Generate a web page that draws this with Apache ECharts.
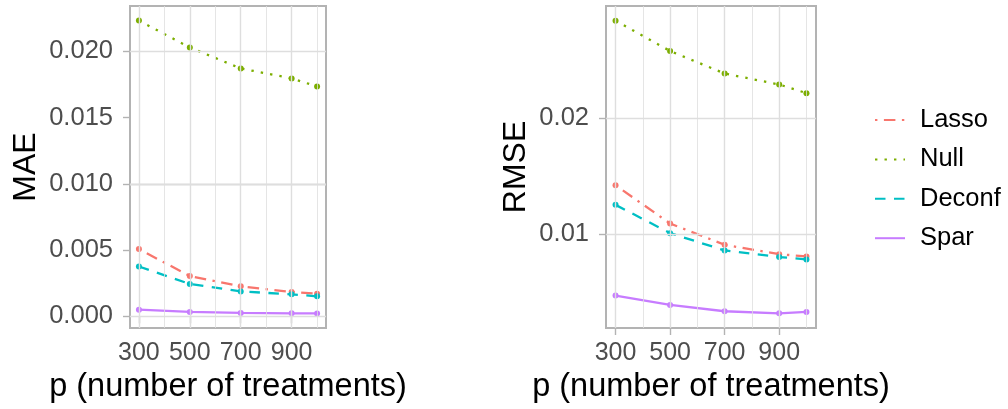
<!DOCTYPE html>
<html><head><meta charset="utf-8">
<script src="https://cdn.jsdelivr.net/npm/echarts@6/dist/echarts.min.js"></script>
<style>html,body{margin:0;padding:0;background:#fff}#c{width:1008px;height:409px}</style>
</head><body><div id="c"></div>
<script>
// ---- data ----
const pValues = [300, 500, 700, 900, 1000];
const methods = ['Lasso', 'Null', 'Deconf', 'Spar'];
const maeLasso  = [0.00507, 0.00304, 0.00226, 0.00184, 0.00171];
const maeNull   = [0.02231, 0.02028, 0.01870, 0.01795, 0.01734];
const maeDeconf = [0.00376, 0.00244, 0.00188, 0.00166, 0.00151];
const maeSpar   = [0.00050, 0.00033, 0.00026, 0.00023, 0.00022];
const rmseLasso  = [0.01421, 0.01089, 0.00905, 0.00824, 0.00804];
const rmseNull   = [0.02847, 0.02584, 0.02389, 0.02294, 0.02219];
const rmseDeconf = [0.01251, 0.01006, 0.00856, 0.00799, 0.00778];
const rmseSpar   = [0.00465, 0.00384, 0.00329, 0.00311, 0.00323];
const xTicks = [300, 500, 700, 900];
const xMinor = [400, 600, 800, 1000];
const maeTicks = [0, 0.005, 0.010, 0.015, 0.020];
const maeMinor = [0.0025, 0.0075, 0.0125, 0.0175, 0.0225];
const rmseTicks = [0.01, 0.02];
const rmseMinor = [0.005, 0.015, 0.025];
const xTitle = 'p (number of treatments)';
const yTitles = ['MAE', 'RMSE'];

// ---- styling ----
const FONT = 'Liberation Sans, Arial, sans-serif';
const colors = {Lasso: '#F8766D', Null: '#7CAE00', Deconf: '#00BFC4', Spar: '#C77CFF'};
const dashes = {Lasso: [2.4, 6.5, 11.5, 6.5], Null: [2.4, 7.1], Deconf: [10.5, 8.5], Spar: 'solid'};
const GRID = '#DEDEDE', BORDER = '#B3B3B3';

const panelData = [
  {Lasso: maeLasso, Null: maeNull, Deconf: maeDeconf, Spar: maeSpar},
  {Lasso: rmseLasso, Null: rmseNull, Deconf: rmseDeconf, Spar: rmseSpar}
];
const yTickSets = [maeTicks, rmseTicks];
const yMinorSets = [maeMinor, rmseMinor];
const yRanges = [[-0.00088, 0.02341], [0.00184, 0.02974]];
const yDigits = [3, 2];

const grids = [
  {left: 130, top: 6, width: 196, height: 322},
  {left: 606, top: 6, width: 210, height: 322}
];
const yNameGap = [88, 74];

const xAxes = [], yAxes = [], series = [];
grids.forEach((g, i) => {
  xAxes.push({
    type: 'value', gridIndex: i, min: 265, max: 1035,
    name: xTitle, nameLocation: 'middle', nameGap: 41,
    nameTextStyle: {fontFamily: FONT, fontSize: 32.5, color: '#000'},
    axisLine: {show: false},
    splitLine: {show: false},
    axisTick: {show: true, customValues: xTicks, length: 7, lineStyle: {color: BORDER, width: 1.4}},
    axisLabel: {customValues: xTicks, margin: 13, fontFamily: FONT, fontSize: 25, color: '#4D4D4D'}
  });
  yAxes.push({
    type: 'value', gridIndex: i, min: yRanges[i][0], max: yRanges[i][1],
    name: yTitles[i], nameLocation: 'middle', nameGap: yNameGap[i],
    nameTextStyle: {fontFamily: FONT, fontSize: 32, color: '#000'},
    axisLine: {show: false},
    splitLine: {show: false},
    axisTick: {show: true, customValues: yTickSets[i], length: 7, lineStyle: {color: BORDER, width: 1.4}},
    axisLabel: {customValues: yTickSets[i], margin: 17, fontFamily: FONT, fontSize: 25.5, color: '#4D4D4D',
      formatter: v => Number(v).toFixed(yDigits[i])}
  });
  // gridlines through the axes' scales
  const lines = [];
  xMinor.forEach(v => lines.push({xAxis: v, lineStyle: {width: 0.8}}));
  yMinorSets[i].forEach(v => lines.push({yAxis: v, lineStyle: {width: 0.8}}));
  xTicks.forEach(v => lines.push({xAxis: v, lineStyle: {width: 1.4}}));
  yTickSets[i].forEach(v => lines.push({yAxis: v, lineStyle: {width: 1.4}}));
  series.push({
    type: 'line', name: '_grid' + i, xAxisIndex: i, yAxisIndex: i, data: [], z: 1,
    silent: true,
    markLine: {silent: true, symbol: ['none', 'none'], animation: false,
      label: {show: false}, lineStyle: {type: 'solid', color: GRID}, data: lines}
  });
  methods.forEach(m => {
    series.push({
      type: 'line', name: m, xAxisIndex: i, yAxisIndex: i, z: 3,
      data: pValues.map((p, k) => [p, panelData[i][m][k]]),
      color: colors[m],
      symbol: 'circle', symbolSize: 6, showSymbol: true,
      lineStyle: {color: colors[m], width: 2.3, type: dashes[m]},
      itemStyle: {color: colors[m]},
      animation: false
    });
  });
});

const chart = echarts.init(document.getElementById('c'), null, {renderer: 'canvas'});
chart.setOption({
  backgroundColor: '#fff',
  animation: false,
  grid: grids.map(g => Object.assign({show: true, borderColor: BORDER, borderWidth: 2, backgroundColor: 'transparent'}, g)),
  xAxis: xAxes,
  yAxis: yAxes,
  legend: {
    data: methods, orient: 'vertical', left: 869, top: 102,
    itemWidth: 30, itemHeight: 25, itemGap: 13.4,
    selectedMode: false,
    itemStyle: {opacity: 0},
    textStyle: {fontFamily: FONT, fontSize: 25.5, color: '#000', lineHeight: 25, padding: [0, 0, 0, 10]}
  },
  series: series
});
</script></body></html>
